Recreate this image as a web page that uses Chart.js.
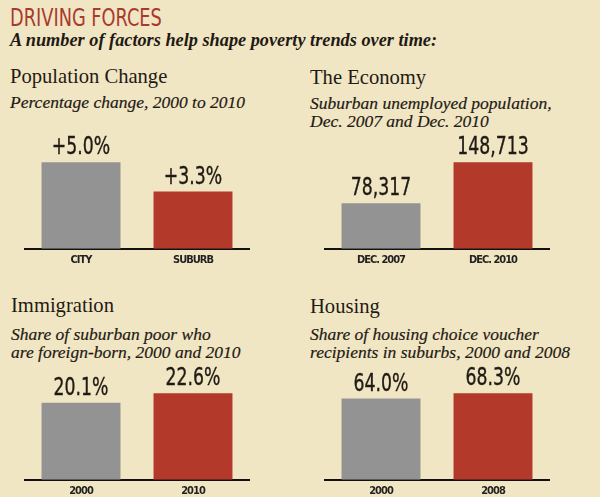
<!DOCTYPE html>
<html>
<head>
<meta charset="utf-8">
<script src="https://cdn.jsdelivr.net/npm/chart.js@4/dist/chart.umd.min.js"></script>
<style>
  body { margin: 0; width: 600px; height: 497px; background: #f1e6c4; position: relative; overflow: hidden; color: #1f1a14; }
  .abs { position: absolute; white-space: nowrap; }
  .hd { left: 10px; top: 3px; font: 25px/30px "DejaVu Sans Condensed", sans-serif; color: #a83a2e; transform: scaleX(0.79); transform-origin: left top; }
  .lead { left: 10px; top: 30px; font: italic bold 18.3px/20px "Liberation Serif", serif; }
  .ttl { font: 20.6px/24px "Liberation Serif", serif; }
  .sub { font: italic 17.5px/18px "Liberation Serif", serif; -webkit-text-stroke: 0.2px #1f1a14; }
  .box { position: absolute; width: 280px; height: 147px; }
</style>
</head>
<body>
<div class="abs hd">DRIVING FORCES</div>
<div class="abs lead">A number of factors help shape poverty trends over time:</div>

<div class="abs ttl" style="left:10px;top:64px">Population Change</div>
<div class="abs sub" style="left:10px;top:93px">Percentage change, 2000 to 2010</div>
<div class="box" style="left:0;top:125px"><canvas id="pop" width="280" height="147"></canvas></div>

<div class="abs ttl" style="left:310px;top:65px">The Economy</div>
<div class="abs sub" style="left:310px;top:94px">Suburban unemployed population,<br>Dec. 2007 and Dec. 2010</div>
<div class="box" style="left:300px;top:125px"><canvas id="econ" width="280" height="147"></canvas></div>

<div class="abs ttl" style="left:11px;top:293px">Immigration</div>
<div class="abs sub" style="left:11px;top:325px">Share of suburban poor who<br>are foreign-born, 2000 and 2010</div>
<div class="box" style="left:0;top:356px"><canvas id="imm" width="280" height="147"></canvas></div>

<div class="abs ttl" style="left:310px;top:294px">Housing</div>
<div class="abs sub" style="left:310px;top:325px">Share of housing choice voucher<br>recipients in suburbs, 2000 and 2008</div>
<div class="box" style="left:300px;top:356px"><canvas id="house" width="280" height="147"></canvas></div>

<script>
const popLabels = ['CITY', 'SUBURB'];
const popValues = [5.0, 3.3];
const econLabels = ['DEC. 2007', 'DEC. 2010'];
const econValues = [78317, 148713];
const immLabels = ['2000', '2010'];
const immValues = [20.1, 22.6];
const houseLabels = ['2000', '2008'];
const houseValues = [64.0, 68.3];
const barColors = ['#939393', '#b3392b'];

const narrow = '"DejaVu Sans Condensed", sans-serif';

// tighter tick labels (no narrow face installed)
const tightText = {
  id: 'tightText',
  beforeDraw(chart) { chart.ctx.letterSpacing = '-1px'; },
  afterDraw(chart) { chart.ctx.letterSpacing = '0px'; }
};

// numbers above the bars, squeezed horizontally
const valueLabels = {
  id: 'valueLabels',
  afterDatasetsDraw(chart, args, opts) {
    const ctx = chart.ctx;
    const vals = chart.data.datasets[0].data;
    chart.getDatasetMeta(0).data.forEach((bar, i) => {
      const txt = opts.format(vals[i]);
      ctx.save();
      ctx.letterSpacing = '0px';
      ctx.font = '24px ' + narrow;
      ctx.fillStyle = '#1f1a14';
      ctx.strokeStyle = '#1f1a14';
      ctx.lineWidth = 0.35;
      ctx.textAlign = 'center';
      ctx.translate(bar.x, bar.y - 8);
      ctx.scale(0.8, 1);
      ctx.fillText(txt, 0, 0);
      ctx.strokeText(txt, 0, 0);
      ctx.restore();
    });
  }
};

function makeChart(id, labels, values, format) {
  return new Chart(document.getElementById(id), {
    type: 'bar',
    data: {
      labels: labels,
      datasets: [{ data: values, backgroundColor: barColors, barPercentage: 0.705, categoryPercentage: 1 }]
    },
    options: {
      responsive: false,
      animation: false,
      layout: { padding: { left: 25, right: 31, top: 23, bottom: 0 } },
      plugins: {
        legend: { display: false },
        tooltip: { enabled: false },
        valueLabels: { format: format }
      },
      scales: {
        x: {
          grid: { display: false, drawTicks: false },
          border: { color: '#111', width: 2 },
          ticks: { color: '#222', padding: 5, font: { family: narrow, size: 11, weight: 'bold' } }
        },
        y: { display: false, min: 0, max: Math.max(...values) * 1.163 }
      }
    },
    plugins: [tightText, valueLabels]
  });
}

makeChart('pop', popLabels, popValues, v => '+' + v.toFixed(1) + '%');
makeChart('econ', econLabels, econValues, v => v.toLocaleString('en-US'));
makeChart('imm', immLabels, immValues, v => v.toFixed(1) + '%');
makeChart('house', houseLabels, houseValues, v => v.toFixed(1) + '%');
</script>
</body>
</html>
